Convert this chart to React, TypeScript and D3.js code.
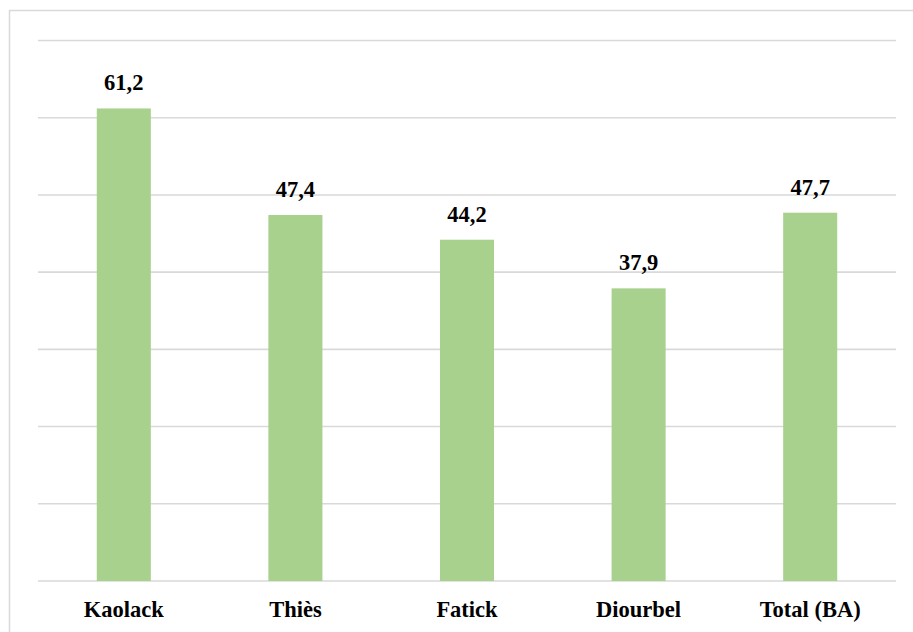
import React from "react";
import * as d3 from "d3";

const categories = ["Kaolack", "Thiès", "Fatick", "Diourbel", "Total (BA)"];
const values = [61.2, 47.4, 44.2, 37.9, 47.7];
const gridTicks = [0, 10, 20, 30, 40, 50, 60, 70];

const W = 913;
const H = 632;
const margin = { left: 38, right: 17, top: 40.5, bottom: 51 };

export default function App() {
  const x = d3
    .scaleBand<string>()
    .domain(categories)
    .range([margin.left, W - margin.right])
    .paddingInner(0.685)
    .paddingOuter(0.3425);
  const y = d3.scaleLinear().domain([0, 70]).range([H - margin.bottom, margin.top]);
  const fmt = (v: number) => v.toFixed(1).replace(".", ",");
  const textStyle: React.CSSProperties = {
    fontFamily:
      "'Times New Roman', Tinos, 'Liberation Serif', 'Nimbus Roman', 'Nimbus Roman No9 L', FreeSerif, 'Noto Serif', 'DejaVu Serif', Georgia, serif",
    fontWeight: 700,
    fontSize: "22.5px",
  };

  return (
    <svg
      width={W}
      height={H}
      style={{ position: "absolute", left: 0, top: 0, background: "#fff" }}
    >
      <rect x={9.5} y={10.5} width={W + 10} height={H + 10} fill="none" stroke="#d9d9d9" strokeWidth={1.5} />
      {gridTicks.map((t) => (
        <line
          key={t}
          x1={margin.left}
          x2={W - margin.right}
          y1={y(t)}
          y2={y(t)}
          stroke="#d9d9d9"
          strokeWidth={1.6}
        />
      ))}
      {categories.map((c, i) => (
        <g key={c}>
          <rect
            x={x(c)}
            y={y(values[i])}
            width={x.bandwidth()}
            height={y(0) - y(values[i])}
            fill="#a9d18e"
          />
          <text
            x={(x(c) as number) + x.bandwidth() / 2}
            y={y(values[i]) - 18}
            textAnchor="middle"
            style={textStyle}
            fill="#000"
          >
            {fmt(values[i])}
          </text>
          <text
            x={(x(c) as number) + x.bandwidth() / 2}
            y={617}
            textAnchor="middle"
            style={textStyle}
            fill="#000"
          >
            {c}
          </text>
        </g>
      ))}
    </svg>
  );
}
